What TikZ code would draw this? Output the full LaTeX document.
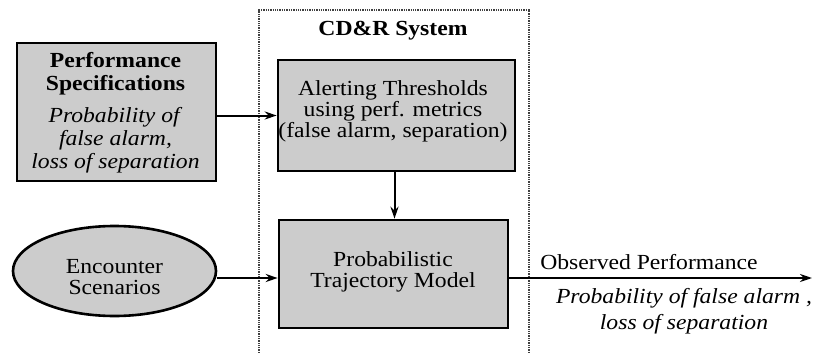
\documentclass[tikz,border=0pt]{standalone}
\usepackage{fontspec}
\setmainfont{Liberation Serif}[FakeStretch=1.1]
\usetikzlibrary{shapes.geometric,arrows.meta}
\definecolor{boxfill}{gray}{0.80}
\tikzset{
  blockbox/.style={draw=black, line width=2.6pt, fill=boxfill, rectangle, inner sep=0pt},
  blocktext/.style={align=center, inner sep=0pt, font=\fontsize{21.5}{21}\selectfont},
  flow/.style={line width=2pt, -{Stealth[length=12pt,width=8pt]}},
  txt/.style={align=center, inner sep=0pt},
}
\begin{document}
\begin{tikzpicture}[x=1pt, y=-1pt, font=\fontsize{21.5}{21}\selectfont]
\useasboundingbox (0,0) rectangle (819,353);

% system boundary, open at the bottom
\draw[black!75, line width=1.3pt, densely dotted] (259,353) -- (259,10) -- (529,10) -- (529,353);
\node[txt, font=\fontsize{21.5}{21}\selectfont\bfseries] (sys) at (393,31) {CD\&R System};

% block outlines
\node[blockbox, minimum width=199pt, minimum height=138pt] (spec) at (116.5,112) {};
\node[blockbox, minimum width=237pt, minimum height=111pt] (alert) at (396.5,115.5) {};
\node[blockbox, minimum width=229pt, minimum height=108pt] (traj) at (393.5,274) {};
\node[blockbox, ellipse, minimum width=203pt, minimum height=90pt] (enc) at (114.5,271) {};

% block texts
\node[blocktext, font=\fontsize{21.5}{23}\selectfont] (spect) at (115.5,113)
  {\textbf{Performance}\\\textbf{Specifications}\\[9pt]\textit{Probability of}\\\textit{false alarm,}\\\textit{loss of separation}};
\node[blocktext] (alertt) at (393,111)
  {Alerting Thresholds\\using perf. metrics\\(false alarm, separation)};
\node[blocktext] (trajt) at (393,272) {Probabilistic\\Trajectory Model};
\node[blocktext] (enct) at (114.5,277) {Encounter\\Scenarios};

% output end and labels
\coordinate (out) at (812,278);
\node[txt] (obs) at (649,262) {Observed Performance};
\node[txt, font=\fontsize{21.5}{26}\selectfont\itshape] (obsval) at (684,311)
  {Probability of false alarm ,\\loss of separation};

% connectors
\draw[flow] (spec.east |- alert.west) -- (alert.west);
\draw[flow] ([xshift=-2pt]alert.south) -- ([xshift=-2pt]alert.south |- traj.north);
\draw[flow] ([yshift=-4pt]traj.west -| enc.east) -- ([yshift=-4pt]traj.west);
\draw[flow] ([yshift=-4pt]traj.east) -- (out);
\end{tikzpicture}
\end{document}
